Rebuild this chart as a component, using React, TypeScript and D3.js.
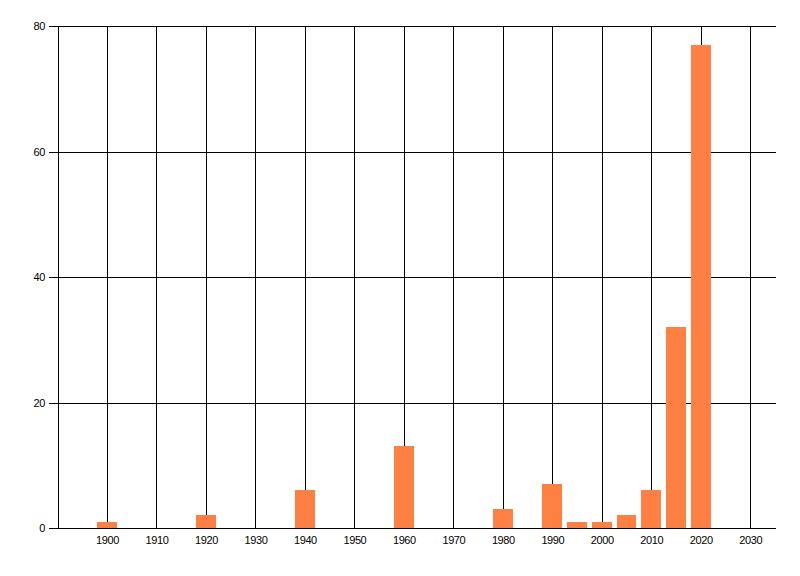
import { useRef, useEffect } from 'react';
import * as d3 from 'd3';

const years = [1900, 1920, 1940, 1960, 1980, 1990, 1995, 2000, 2005, 2010, 2015, 2020];
const counts = [1, 2, 6, 13, 3, 7, 1, 1, 2, 6, 32, 77];
const xTicks = [1900, 1910, 1920, 1930, 1940, 1950, 1960, 1970, 1980, 1990, 2000, 2010, 2020, 2030];
const yTicks = [0, 20, 40, 60, 80];

export default function App() {
    const svgRef = useRef<SVGSVGElement>(null);

    useEffect(() => {
        if (!svgRef.current) return;
        const svg = d3.select(svgRef.current);
        svg.selectAll('*').remove();

        const x = d3.scaleLinear().domain([1890, 2035]).range([57.5, 775]);
        const y = d3.scaleLinear().domain([0, 80]).range([528, 26]);
        const px = (v: number) => Math.round(v) + 0.5;
        const font = '"Liberation Sans", Arial, sans-serif';

        // vertical grid lines
        svg.append('g').selectAll('line')
            .data(xTicks)
            .enter().append('line')
            .attr('x1', d => px(x(d)))
            .attr('x2', d => px(x(d)))
            .attr('y1', px(y(80)))
            .attr('y2', px(y(0)))
            .attr('stroke', '#000')
            .attr('stroke-width', 1);

        // horizontal grid lines (with little tick on the left)
        svg.append('g').selectAll('line')
            .data(yTicks)
            .enter().append('line')
            .attr('x1', 49)
            .attr('x2', 776)
            .attr('y1', d => px(y(d)))
            .attr('y2', d => px(y(d)))
            .attr('stroke', '#000')
            .attr('stroke-width', 1);

        // left axis line
        svg.append('line')
            .attr('x1', px(x(1890)))
            .attr('x2', px(x(1890)))
            .attr('y1', px(y(80)))
            .attr('y2', px(y(0)))
            .attr('stroke', '#000');

        // bars
        svg.append('g').selectAll('rect')
            .data(years)
            .enter().append('rect')
            .attr('x', d => Math.round(x(d - 2)))
            .attr('width', d => Math.round(x(d + 2)) - Math.round(x(d - 2)))
            .attr('y', (_, i) => Math.round(y(counts[i])))
            .attr('height', (_, i) => Math.round(y(0)) - Math.round(y(counts[i])))
            .attr('fill', '#ff8042');

        // y labels
        svg.append('g').selectAll('text')
            .data(yTicks)
            .enter().append('text')
            .attr('x', 45)
            .attr('y', d => y(d) + 4)
            .attr('text-anchor', 'end')
            .attr('font-size', '11px')
            .attr('letter-spacing', '-0.4px')
            .attr('font-family', font)
            .attr('fill', '#000')
            .text(d => d);

        // x labels
        svg.append('g').selectAll('text')
            .data(xTicks)
            .enter().append('text')
            .attr('x', d => x(d) + 0.5)
            .attr('y', 544)
            .attr('text-anchor', 'middle')
            .attr('font-size', '11px')
            .attr('letter-spacing', '-0.4px')
            .attr('font-family', font)
            .attr('fill', '#000')
            .text(d => d);
    }, []);

    return (
        <svg
            ref={svgRef}
            width={800}
            height={576}
            style={{ position: 'absolute', left: 0, top: 0, background: '#fff' }}
        />
    );
}
